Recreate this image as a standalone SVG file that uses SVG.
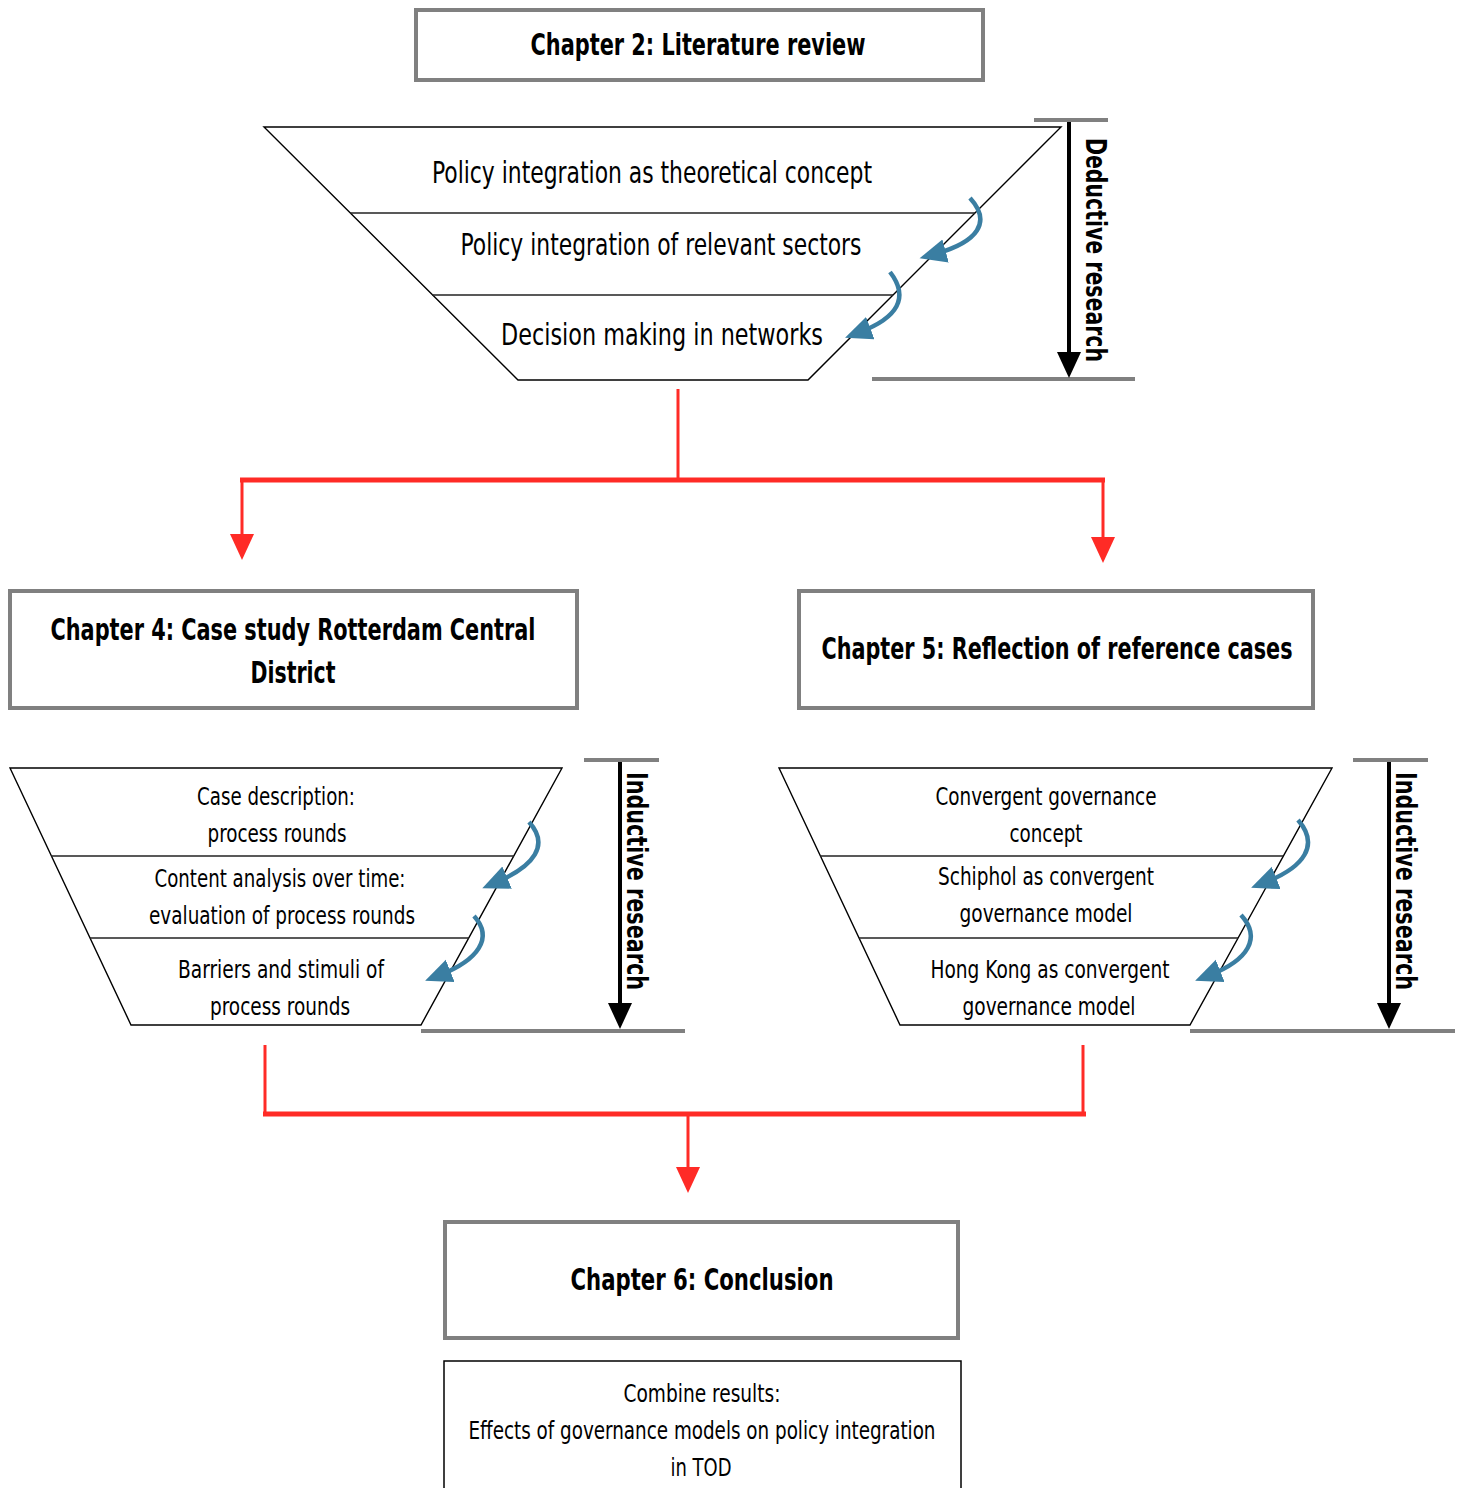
<svg xmlns="http://www.w3.org/2000/svg" width="1462" height="1488" viewBox="0 0 1462 1488">
  <style>
    text { font-family: "DejaVu Sans Condensed", "DejaVu Sans", sans-serif; font-stretch: condensed; fill: #000; }
    .title { font-size: 31px; font-weight: bold; text-anchor: middle; }
    .big { font-size: 30px; text-anchor: middle; }
    .mid { font-size: 25px; text-anchor: middle; }
    .side { font-size: 29px; font-weight: bold; }
    .chbox { fill: #fff; stroke: #808080; stroke-width: 4; }
    .funnel { fill: #fff; stroke: #000; stroke-width: 1.4; }
    .div { stroke: #222; stroke-width: 1.6; fill: none; }
    .bar { stroke: #808080; stroke-width: 4; fill: none; }
    .down { stroke: #000; stroke-width: 4; fill: none; marker-end: url(#blackHead); }
    .turn { stroke: #3a7ea2; stroke-width: 4.5; fill: none; marker-end: url(#blueHead); }
    .red { stroke: #ff2b26; fill: none; }
  </style>
  <defs>
    <marker id="blueHead" markerUnits="userSpaceOnUse" markerWidth="30" markerHeight="26" refX="11" refY="12" orient="auto">
      <path d="M0,0 L27,12 L0,24 z" fill="#3a7ea2"/>
    </marker>
    <marker id="blackHead" markerUnits="userSpaceOnUse" markerWidth="28" markerHeight="26" refX="16" refY="12" orient="auto">
      <path d="M0,0 L26,12 L0,24 z" fill="#000"/>
    </marker>
    <marker id="redHead" markerUnits="userSpaceOnUse" markerWidth="28" markerHeight="26" refX="16" refY="12" orient="auto">
      <path d="M0,0 L26,12 L0,24 z" fill="#ff2b26"/>
    </marker>
  </defs>

  <!-- Chapter 2 -->
  <g id="ch2">
    <rect class="chbox" x="416" y="10" width="567" height="70"/>
    <text class="title" x="698" y="55" textLength="335" lengthAdjust="spacingAndGlyphs">Chapter 2: Literature review</text>
  </g>

  <!-- Literature funnel -->
  <g id="funnel-literature">
    <polygon class="funnel" points="264,127 1061,127 808,380 518,380"/>
    <line class="div" x1="350" y1="213" x2="975" y2="213"/>
    <line class="div" x1="432" y1="295" x2="893" y2="295"/>
    <text class="big" x="652" y="183" textLength="440" lengthAdjust="spacingAndGlyphs">Policy integration as theoretical concept</text>
    <text class="big" x="661" y="255" textLength="401" lengthAdjust="spacingAndGlyphs">Policy integration of relevant sectors</text>
    <text class="big" x="662" y="345" textLength="322" lengthAdjust="spacingAndGlyphs">Decision making in networks</text>
    <path class="turn" d="M970,198 C992,222 978,242 935,254"/>
    <path class="turn" d="M890,272 C910,298 897,318 860,332"/>
  </g>

  <!-- Deductive bracket -->
  <g id="deductive">
    <line class="bar" x1="1034" y1="120" x2="1108" y2="120"/>
    <line class="bar" x1="872" y1="379" x2="1135" y2="379"/>
    <line class="down" x1="1069" y1="122" x2="1069" y2="368"/>
    <text class="side" transform="translate(1086,138) rotate(90)" textLength="224" lengthAdjust="spacingAndGlyphs">Deductive research</text>
  </g>

  <!-- Chapter 4 -->
  <g id="ch4">
    <rect class="chbox" x="10" y="591" width="567" height="117"/>
    <text class="title" x="293" y="640" textLength="485" lengthAdjust="spacingAndGlyphs">Chapter 4: Case study Rotterdam Central</text>
    <text class="title" x="293" y="683" textLength="85" lengthAdjust="spacingAndGlyphs">District</text>
  </g>

  <!-- Chapter 5 -->
  <g id="ch5">
    <rect class="chbox" x="799" y="591" width="514" height="117"/>
    <text class="title" x="1057" y="659" textLength="471" lengthAdjust="spacingAndGlyphs">Chapter 5: Reflection of reference cases</text>
  </g>

  <!-- Case study funnel -->
  <g id="funnel-case">
    <polygon class="funnel" points="10,768 562,768 421,1025 131,1025"/>
    <line class="div" x1="51" y1="856" x2="514" y2="856"/>
    <line class="div" x1="90" y1="938" x2="469" y2="938"/>
    <text class="mid" x="276" y="805" textLength="158" lengthAdjust="spacingAndGlyphs">Case description:</text>
    <text class="mid" x="277" y="842" textLength="139" lengthAdjust="spacingAndGlyphs">process rounds</text>
    <text class="mid" x="280" y="887" textLength="251" lengthAdjust="spacingAndGlyphs">Content analysis over time:</text>
    <text class="mid" x="282" y="924" textLength="266" lengthAdjust="spacingAndGlyphs">evaluation of process rounds</text>
    <text class="mid" x="281" y="978" textLength="206" lengthAdjust="spacingAndGlyphs">Barriers and stimuli of</text>
    <text class="mid" x="280" y="1015" textLength="140" lengthAdjust="spacingAndGlyphs">process rounds</text>
    <path class="turn" d="M529,822 C550,845 534,866 497,882"/>
    <path class="turn" d="M474,916 C494,938 478,960 440,975"/>
  </g>

  <!-- Inductive bracket (case study) -->
  <g id="inductive-case">
    <line class="bar" x1="584" y1="760" x2="659" y2="760"/>
    <line class="bar" x1="421" y1="1031" x2="685" y2="1031"/>
    <line class="down" x1="620" y1="762" x2="620" y2="1019"/>
    <text class="side" transform="translate(627,772) rotate(90)" textLength="218" lengthAdjust="spacingAndGlyphs">Inductive research</text>
  </g>

  <!-- Reference cases funnel -->
  <g id="funnel-reference">
    <polygon class="funnel" points="779,768 1332,768 1190,1025 900,1025"/>
    <line class="div" x1="820" y1="856" x2="1283" y2="856"/>
    <line class="div" x1="859" y1="938" x2="1238" y2="938"/>
    <text class="mid" x="1046" y="805" textLength="221" lengthAdjust="spacingAndGlyphs">Convergent governance</text>
    <text class="mid" x="1046" y="842" textLength="73" lengthAdjust="spacingAndGlyphs">concept</text>
    <text class="mid" x="1046" y="885" textLength="216" lengthAdjust="spacingAndGlyphs">Schiphol as convergent</text>
    <text class="mid" x="1046" y="922" textLength="173" lengthAdjust="spacingAndGlyphs">governance model</text>
    <text class="mid" x="1050" y="978" textLength="239" lengthAdjust="spacingAndGlyphs">Hong Kong as convergent</text>
    <text class="mid" x="1049" y="1015" textLength="173" lengthAdjust="spacingAndGlyphs">governance model</text>
    <path class="turn" d="M1298,820 C1320,845 1304,867 1266,882"/>
    <path class="turn" d="M1241,915 C1262,938 1248,960 1210,975"/>
  </g>

  <!-- Inductive bracket (reference cases) -->
  <g id="inductive-reference">
    <line class="bar" x1="1353" y1="760" x2="1428" y2="760"/>
    <line class="bar" x1="1190" y1="1031" x2="1455" y2="1031"/>
    <line class="down" x1="1389" y1="762" x2="1389" y2="1019"/>
    <text class="side" transform="translate(1396,772) rotate(90)" textLength="218" lengthAdjust="spacingAndGlyphs">Inductive research</text>
  </g>

  <!-- Chapter 6 -->
  <g id="ch6">
    <rect class="chbox" x="445" y="1222" width="513" height="116"/>
    <text class="title" x="702" y="1290" textLength="263" lengthAdjust="spacingAndGlyphs">Chapter 6: Conclusion</text>
  </g>

  <!-- Combined results -->
  <g id="results">
    <rect x="444" y="1361" width="517" height="140" fill="#fff" stroke="#000" stroke-width="1.5"/>
    <text class="mid" x="702" y="1402" textLength="157" lengthAdjust="spacingAndGlyphs">Combine results:</text>
    <text class="mid" x="702" y="1439" textLength="467" lengthAdjust="spacingAndGlyphs">Effects of governance models on policy integration</text>
    <text class="mid" x="701" y="1476" textLength="61" lengthAdjust="spacingAndGlyphs">in TOD</text>
  </g>

  <!-- Connectors -->
  <g id="connectors">
    <line class="red" stroke-width="3" x1="678" y1="389" x2="678" y2="480"/>
    <line class="red" stroke-width="5" x1="240" y1="480" x2="1105" y2="480"/>
    <line class="red" stroke-width="3" x1="242" y1="480" x2="242" y2="550" marker-end="url(#redHead)"/>
    <line class="red" stroke-width="3" x1="1103" y1="480" x2="1103" y2="553" marker-end="url(#redHead)"/>
    <line class="red" stroke-width="3" x1="265" y1="1045" x2="265" y2="1114"/>
    <line class="red" stroke-width="3" x1="1083" y1="1045" x2="1083" y2="1114"/>
    <line class="red" stroke-width="5" x1="263" y1="1114" x2="1086" y2="1114"/>
    <line class="red" stroke-width="3" x1="688" y1="1114" x2="688" y2="1183" marker-end="url(#redHead)"/>
  </g>
</svg>
